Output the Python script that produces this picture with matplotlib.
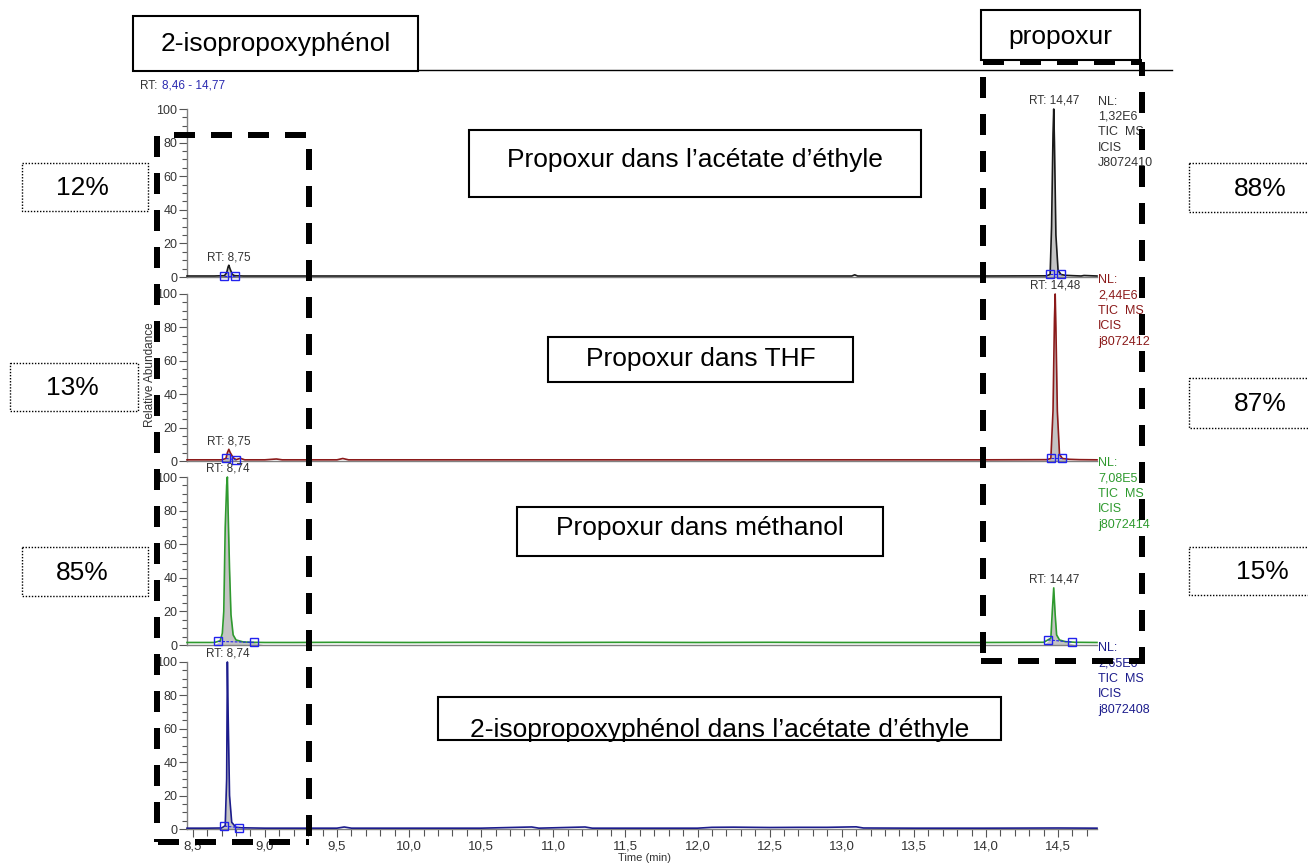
import matplotlib
matplotlib.use("Agg")
import matplotlib.pyplot as plt
from matplotlib.patches import Rectangle
import numpy as np

plt.rcParams['font.family'] = ['Liberation Sans', 'DejaVu Sans']
plt.rcParams['lines.scale_dashes'] = False

# ---------------- data ----------------
x_range = (8.46, 14.77)
x_ticks = [8.5, 9.0, 9.5, 10.0, 10.5, 11.0, 11.5, 12.0, 12.5, 13.0, 13.5, 14.0, 14.5]
x_tick_labels = ['8,5', '9,0', '9,5', '10,0', '10,5', '11,0', '11,5', '12,0', '12,5',
                 '13,0', '13,5', '14,0', '14,5']
y_ticks = [0, 20, 40, 60, 80, 100]

# Panel 1 : propoxur in ethyl acetate (black)
t1 = [8.46, 8.55, 8.65, 8.72, 8.735, 8.745, 8.75, 8.76, 8.775, 8.79, 8.85, 9.0, 9.5, 10.0,
      10.5, 11.0, 11.5, 12.0, 12.5, 13.0, 13.07, 13.09, 13.11, 13.5, 14.0, 14.42, 14.445,
      14.455, 14.465, 14.47, 14.475, 14.485, 14.50, 14.52, 14.55, 14.60, 14.66, 14.68, 14.77]
v1 = [0.6, 0.6, 0.6, 0.8, 2.5, 6.0, 7.0, 4.5, 1.5, 0.8, 0.6, 0.6, 0.6, 0.6,
      0.6, 0.6, 0.6, 0.6, 0.6, 0.6, 0.6, 1.3, 0.6, 0.6, 0.6, 0.7, 1.5,
      30, 85, 100, 80, 25, 4.0, 1.5, 1.0, 0.8, 0.6, 0.9, 0.6]
# (RT, apex height, integration start, integration end)
peaks1 = [(8.75, 7.0, 8.72, 8.79), (14.47, 100, 14.445, 14.52)]

# Panel 2 : propoxur in THF (dark red)
t2 = [8.46, 8.60, 8.70, 8.73, 8.74, 8.75, 8.76, 8.78, 8.80, 8.83, 8.86, 9.0, 9.08, 9.12,
      9.5, 9.54, 9.58, 10.0, 10.5, 11.0, 11.5, 12.0, 12.5, 13.0, 13.5, 14.0, 14.42,
      14.45, 14.465, 14.475, 14.48, 14.485, 14.495, 14.51, 14.53, 14.58, 14.65, 14.77]
v2 = [0.7, 0.7, 0.7, 1.5, 5.0, 7.0, 5.0, 2.0, 0.8, 1.6, 0.7, 0.7, 1.2, 0.7,
      0.7, 1.5, 0.7, 0.7, 0.7, 0.7, 0.7, 0.7, 0.7, 0.7, 0.7, 0.7, 0.8,
      1.5, 30, 85, 100, 80, 30, 4.0, 1.5, 1.0, 0.8, 0.7]
peaks2 = [(8.75, 7.0, 8.73, 8.80), (14.48, 100, 14.45, 14.53)]

# Panel 3 : propoxur in methanol (green)
t3 = [8.46, 8.55, 8.65, 8.69, 8.705, 8.715, 8.725, 8.735, 8.74, 8.745, 8.755, 8.765,
      8.78, 8.80, 8.85, 8.92, 9.0, 9.2, 9.5, 10.0, 10.5, 11.0, 11.5, 12.0, 12.5, 13.0,
      13.5, 14.0, 14.40, 14.45, 14.46, 14.47, 14.48, 14.49, 14.51, 14.55, 14.62, 14.77]
v3 = [1.5, 1.5, 1.5, 2.5, 7.0, 20, 70, 95, 100, 80, 45, 18,
      6.0, 3.0, 1.8, 1.6, 1.5, 1.5, 1.6, 1.5, 1.6, 1.5, 1.6, 1.5, 1.6, 1.5,
      1.5, 1.5, 1.6, 4.0, 20, 34, 18, 6.0, 3.0, 2.0, 1.6, 1.5]
peaks3 = [(8.74, 100, 8.675, 8.925), (14.47, 34, 14.43, 14.60)]

# Panel 4 : 2-isopropoxyphenol in ethyl acetate (navy)
t4 = [8.46, 8.60, 8.70, 8.725, 8.735, 8.74, 8.745, 8.755, 8.77, 8.80, 8.85, 9.0, 9.5,
      9.55, 9.6, 10.0, 10.5, 10.85, 10.9, 11.22, 11.27, 11.5, 12.0, 12.1, 12.25, 12.5,
      12.7, 12.9, 13.1, 13.15, 13.5, 14.0, 14.5, 14.77]
v4 = [0.5, 0.5, 0.6, 2.0, 30, 100, 70, 20, 4.0, 1.0, 0.7, 0.5, 0.5,
      1.2, 0.5, 0.5, 0.5, 1.2, 0.5, 1.2, 0.5, 0.5, 0.5, 1.0, 1.1, 0.9,
      1.0, 1.0, 1.3, 0.6, 0.5, 0.5, 0.6, 0.5]
peaks4 = [(8.74, 100, 8.72, 8.82)]

panels = [
    (t1, v1, peaks1, '#1a1a1a', ['NL:', '1,32E6', 'TIC  MS', 'ICIS', 'J8072410'], '#333333'),
    (t2, v2, peaks2, '#8b1a1a', ['NL:', '2,44E6', 'TIC  MS', 'ICIS', 'j8072412'], '#8b1a1a'),
    (t3, v3, peaks3, '#2e9a2e', ['NL:', '7,08E5', 'TIC  MS', 'ICIS', 'j8072414'], '#2e9a2e'),
    (t4, v4, peaks4, '#1c1c8c', ['NL:', '2,65E6', 'TIC  MS', 'ICIS', 'j8072408'], '#1c1c8c'),
]

W, H = 1308, 867
fig = plt.figure(figsize=(W / 100, H / 100), dpi=100)

panel_px = [(109, 277), (294, 461), (477, 645), (662, 829)]
left_px, right_px = 187, 1097

txt_col = '#333333'
for i, ((t, v, peaks, col, nl, nlcol), (p100, p0)) in enumerate(zip(panels, panel_px)):
    ax = fig.add_axes([left_px / W, 1 - p0 / H, (right_px - left_px) / W, (p0 - p100) / H])
    ax.set_xlim(*x_range)
    ax.set_ylim(0, 100)
    ax.patch.set_alpha(0)
    t = np.array(t); v = np.array(v)
    for (rt, h, a, b) in peaks:
        m = (t >= a) & (t <= b)
        ax.fill_between(t, 0, v, where=m, color='#c4c4c4', lw=0, zorder=1, interpolate=True)
    ax.plot(t, v, color=col, lw=1.2, zorder=3, clip_on=False)
    for (rt, h, a, b) in peaks:
        ya = float(np.interp(a, t, v)); yb = float(np.interp(b, t, v))
        ax.plot([a, b], [ya, yb], color='#2222ee', lw=0.8, ls=(0, (2, 1)), zorder=4, clip_on=False)
        ax.plot([a, b], [ya, yb], ls='none', marker='s', ms=5.5, mfc='none', mec='#2222ee',
                mew=1.0, zorder=5, clip_on=False)
        lab = 'RT: ' + ('%.2f' % rt).replace('.', ',')
        ax.annotate(lab, (rt, h), xytext=(0, 1.5), textcoords='offset points', ha='center',
                    va='bottom', fontsize=8.5, color=txt_col, annotation_clip=False)
    ax.text(1.001, 1.08 if i == 0 else 1.12, '\n'.join(nl), transform=ax.transAxes,
            ha='left', va='top', fontsize=9, color=nlcol, linespacing=1.38)
    for s in ['top', 'right']:
        ax.spines[s].set_visible(False)
    for s in ['left', 'bottom']:
        ax.spines[s].set_color('#808080')
        ax.spines[s].set_linewidth(1.0)
    ax.set_yticks(y_ticks)
    ax.set_yticklabels([str(y) for y in y_ticks])
    ax.set_yticks(np.arange(0, 101, 5), minor=True)
    ax.tick_params(axis='y', which='major', direction='out', length=6, width=0.8,
                   color='#555555', labelsize=9, labelcolor=txt_col, pad=1)
    ax.tick_params(axis='y', which='minor', direction='out', length=3.6, width=0.8,
                   color='#555555')
    if i < 3:
        ax.set_xticks([])
        ax.tick_params(axis='x', which='both', length=0, labelbottom=False)
    else:
        ax.set_xticks(x_ticks)
        ax.set_xticklabels(x_tick_labels)
        ax.set_xticks(np.arange(8.5, 14.75, 0.1), minor=True)
        ax.tick_params(axis='x', which='major', direction='out', length=6, width=0.8,
                       color='#555555', labelsize=9.5, labelcolor=txt_col, pad=2)
        ax.tick_params(axis='x', which='minor', direction='out', length=5, width=0.8,
                       color='#555555')

# ---------------- overlay (pixel coordinates) ----------------
ov = fig.add_axes([0, 0, 1, 1], zorder=10)
ov.set_xlim(0, W)
ov.set_ylim(H, 0)
ov.axis('off')
ov.patch.set_alpha(0)

ov.text(140, 86, 'RT:', fontsize=8.5, color=txt_col, ha='left', va='center')
ov.text(162, 86, '8,46 - 14,77', fontsize=8.5, color='#2a2ab0', ha='left', va='center')
ov.text(150, 375, 'Relative Abundance', rotation=90, fontsize=8.5, color=txt_col,
        ha='center', va='center')
ov.text(645, 858, 'Time (min)', fontsize=8, color=txt_col, ha='center', va='center')

ov.plot([133, 1172], [70, 70], color='black', lw=1.0)

def box(x0, y0, x1, y1, text, tx=None, ty=None, style='-', lw=1.5, clip=False, fs=19):
    r = Rectangle((x0, y0), x1 - x0, y1 - y0, facecolor='white', edgecolor='black',
                  lw=lw, ls=style, zorder=20)
    ov.add_patch(r)
    tx = (x0 + x1) / 2 if tx is None else tx
    ty = (y0 + y1) / 2 if ty is None else ty
    tt = ov.text(tx, ty, text, fontsize=fs, ha='center', va='center', color='black', zorder=21)
    if clip:
        tt.set_clip_path(r)

box(133, 16, 418, 71, '2-isopropoxyphénol')
box(981, 10, 1140, 60, 'propoxur', ty=37)
box(469, 130, 921, 197, 'Propoxur dans l’acétate d’éthyle', ty=160)
box(548, 337, 853, 382, 'Propoxur dans THF', ty=359)
box(517, 507, 883, 556, 'Propoxur dans méthanol', ty=528)
box(438, 697, 1001, 740, '2-isopropoxyphénol dans l’acétate d’éthyle', ty=730, clip=True)

for (x0, y0, x1, y1, s, tx) in [(22, 163, 148, 211, '12%', 82), (10, 363, 138, 411, '13%', 72),
                                (22, 547, 148, 596, '85%', 82), (1189, 163, 1318, 212, '88%', 1260),
                                (1189, 378, 1318, 428, '87%', 1260), (1189, 547, 1318, 595, '15%', 1262)]:
    box(x0, y0, x1, y1, s, tx=tx, ty=(y0 + y1) / 2 + 1, style=(0, (1, 1.2)), lw=1.0)

# thick dashed rectangles, side by side (pixel units converted to points)
PT = 0.72
def dseg(x0, y0, x1, y1, off_px=0, on=21, gap=16):
    ov.plot([x0, x1], [y0, y1], color='black', lw=6 * PT,
            ls=(off_px * PT, (on * PT, gap * PT)), dash_capstyle='butt',
            solid_capstyle='butt', zorder=30)

# left rectangle (2-isopropoxyphenol)
dseg(157, 136, 157, 842, 0)
dseg(158, 135, 309, 135, 21)
dseg(309, 149, 309, 845, 0)
dseg(158, 842, 309, 842, 0)
# right rectangle (propoxur)
dseg(983, 62, 1142, 62, 0)
dseg(1142, 62, 1142, 661, 7)
dseg(981, 661, 1145, 661, 0)
dseg(983, 62, 983, 661, 22)

fig.savefig('out.png', dpi=100)
